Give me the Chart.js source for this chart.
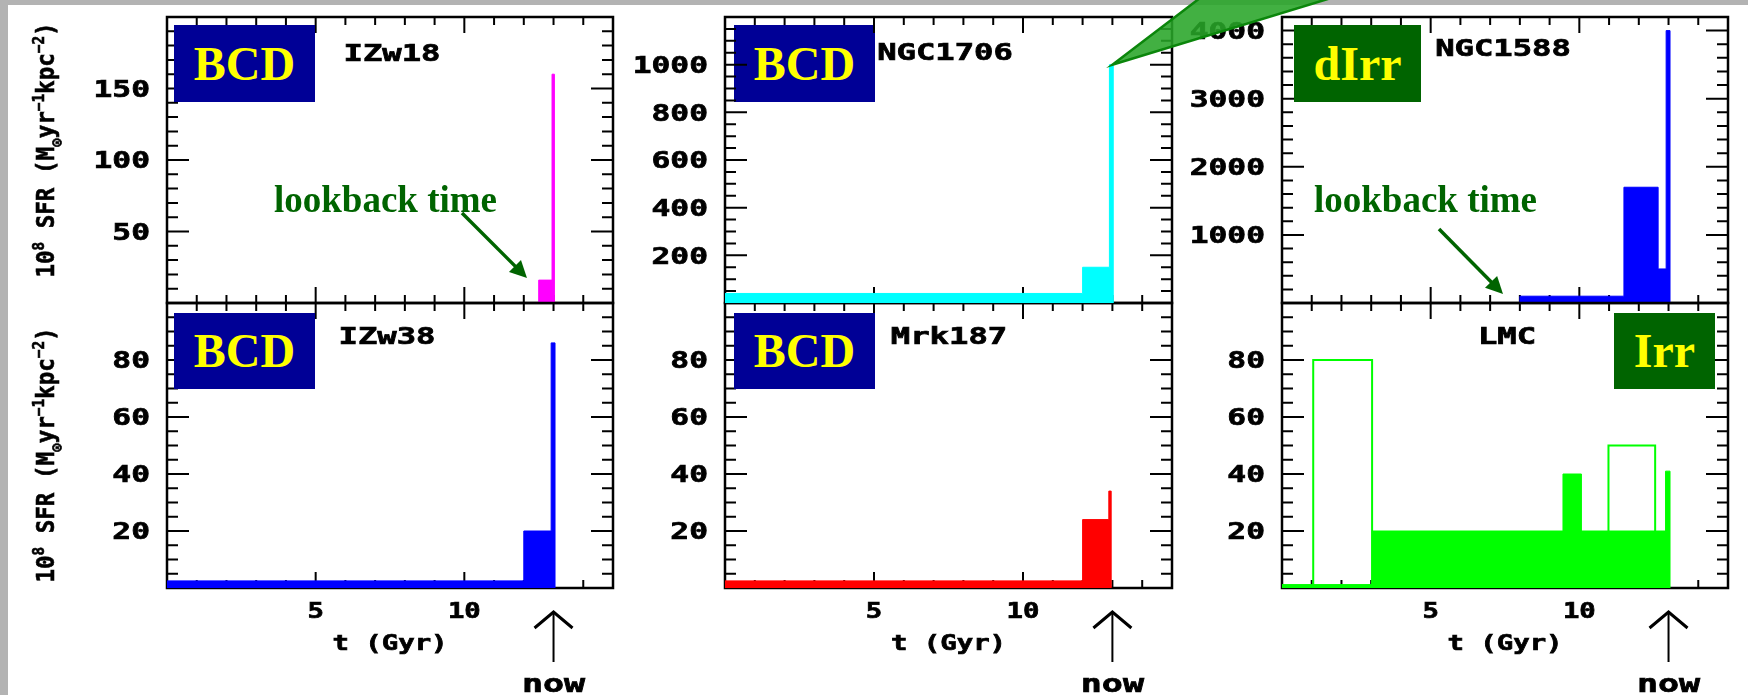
<!DOCTYPE html>
<html>
<head>
<meta charset="utf-8">
<script src="https://cdn.jsdelivr.net/npm/chart.js@4.4.1/dist/chart.umd.min.js"></script>
<style>
  html, body { margin: 0; padding: 0; background: #fff; }
  #page { position: relative; width: 1748px; height: 695px; overflow: hidden; background: #fff; }
  .strip { position: absolute; background: #b3b3b3; z-index: 0; }
  canvas { position: absolute; left: 0; top: 0; z-index: 1; }
  #c2 { z-index: 5; }
  .tag { position: absolute; display: flex; align-items: center; justify-content: center;
         font: bold 48px "Liberation Serif", "Times New Roman", serif; line-height: 48px; color: #ffff00; z-index: 3; }
  .tag.bcd { background: #000096; }
  .tag.irr { background: #006400; }
  .look { position: absolute; font: bold 37px "Liberation Serif", "Times New Roman", serif; line-height: 37px;
          color: #006400; white-space: nowrap; z-index: 3; }
</style>
</head>
<body>
<div id="page">
  <div class="strip" style="left:0;top:0;width:1748px;height:5px"></div>
  <div class="strip" style="left:0;top:0;width:8px;height:695px"></div>

  <canvas id="c1" width="1748" height="695"></canvas>
  <canvas id="c2" width="1748" height="695"></canvas>
  <canvas id="c3" width="1748" height="695"></canvas>
  <canvas id="c4" width="1748" height="695"></canvas>
  <canvas id="c5" width="1748" height="695"></canvas>
  <canvas id="c6" width="1748" height="695"></canvas>

  <div class="tag bcd" style="left:174px;top:25px;width:141px;height:77px">BCD</div>
  <div class="tag bcd" style="left:734px;top:25px;width:141px;height:77px">BCD</div>
  <div class="tag irr" style="left:1294px;top:25px;width:127px;height:77px">dIrr</div>
  <div class="tag bcd" style="left:174px;top:313px;width:141px;height:76px">BCD</div>
  <div class="tag bcd" style="left:734px;top:313px;width:141px;height:76px">BCD</div>
  <div class="tag irr" style="left:1614px;top:313px;width:101px;height:76px">Irr</div>

  <div class="look" style="left:274px;top:181px">lookback time</div>
  <div class="look" style="left:1314px;top:181px">lookback time</div>
</div>

<script>
// ─── DATA ─────────────────────────────────────────────────────────────────────
// star formation histories: bin edges in t (Gyr) and SFR per bin
const NOW = 13;
const T_MAX = 15;

const iz18Edges = [12.5, 12.95, 13.03];
const iz18Sfr = [16, 160];

const n1706Edges = [0, 12, 12.9, 13.03];
const n1706Sfr = [40, 150, 1000];

const n1588Edges = [8, 11.5, 12.65, 12.92, 13.05];
const n1588Sfr = [100, 1700, 500, 4000];

const iz38Edges = [0, 12, 12.92, 13.05];
const iz38Sfr = [2.5, 20, 86];

const mrk187Edges = [0, 12, 12.88, 12.96];
const mrk187Sfr = [2.5, 24, 34];

const lmcEdges = [0, 3.03, 9.45, 10.07, 12.9, 13.05];
const lmcSfr = [1.2, 20, 40, 20, 41];

// open (unfilled) LMC bursts
const lmcOpenFrom = [1.05, 10.98];
const lmcOpenTo = [3.03, 12.55];
const lmcOpenLow = [1.2, 20];
const lmcOpenHigh = [80, 50];

// tick labels
const xTickLabels = [5, 10];
const iz18Ticks = [50, 100, 150];
const n1706Ticks = [200, 400, 600, 800, 1000];
const n1588Ticks = [1000, 2000, 3000, 4000];
const lowerTicks = [20, 40, 60, 80];

// ─── HELPERS ──────────────────────────────────────────────────────────────────
const W = 1748, H = 695;
const MONO = '"DejaVu Sans Mono", "Liberation Mono", monospace';

function steps(edges, values) {
  const pts = [{ x: edges[0], y: 0 }];
  edges.forEach((e, i) => pts.push({ x: e, y: i < values.length ? values[i] : 0 }));
  return pts;
}

function histSet(edges, values, color) {
  return { data: steps(edges, values), stepped: true, fill: 'origin', backgroundColor: color,
           borderColor: color, borderWidth: 1, pointRadius: 0 };
}

function openBox(i, color) {
  const pts = [
    { x: lmcOpenFrom[i], y: lmcOpenLow[i] }, { x: lmcOpenFrom[i], y: lmcOpenHigh[i] },
    { x: lmcOpenTo[i], y: lmcOpenHigh[i] }, { x: lmcOpenTo[i], y: lmcOpenLow[i] }
  ];
  return { data: pts, fill: false, borderColor: color, borderWidth: 2, pointRadius: 0, tension: 0 };
}

// wide heavy text, cy is the middle of the capitals
function wideText(ctx, str, x, cy, size, sx, align) {
  ctx.save();
  ctx.font = `bold ${size}px ${MONO}`;
  ctx.textAlign = 'left';
  ctx.textBaseline = 'alphabetic';
  const w = ctx.measureText(str).width * sx;
  const left = align === 'right' ? x - w : align === 'center' ? x - w / 2 : x;
  ctx.translate(left, cy + size * 0.365);
  ctx.scale(sx, 1);
  ctx.fillStyle = '#000';
  ctx.strokeStyle = '#000';
  ctx.lineWidth = 0.7;
  ctx.fillText(str, 0, 0);
  ctx.strokeText(str, 0, 0);
  ctx.restore();
}

// rotated axis title with super/subscripts: [text, shift, scale]
const sfrTitle = [['10', 0, 1], ['8', -0.42, 0.62], [' SFR (M', 0, 1], ['⊙', 0.32, 0.62], ['yr', 0, 1],
                  ['−1', -0.42, 0.62], ['kpc', 0, 1], ['−2', -0.42, 0.62], [')', 0, 1]];

function yTitle(ctx, cx, cy) {
  const size = 25, along = 0.9;
  ctx.save();
  ctx.translate(cx, cy);
  ctx.rotate(-Math.PI / 2);
  ctx.scale(along, 1);
  ctx.fillStyle = '#000';
  ctx.strokeStyle = '#000';
  ctx.lineWidth = 0.6;
  ctx.textBaseline = 'alphabetic';
  let total = 0;
  const widths = sfrTitle.map(([t, , s]) => {
    ctx.font = `bold ${Math.round(size * s)}px ${MONO}`;
    const w = ctx.measureText(t).width;
    total += w;
    return w;
  });
  let x = -total / 2;
  sfrTitle.forEach(([t, dy, s], i) => {
    ctx.font = `bold ${Math.round(size * s)}px ${MONO}`;
    ctx.fillText(t, x, size * 0.365 + dy * size);
    ctx.strokeText(t, x, size * 0.365 + dy * size);
    x += widths[i];
  });
  ctx.restore();
}

function arrow(ctx, x1, y1, x2, y2, color, lw, head) {
  const a = Math.atan2(y2 - y1, x2 - x1);
  ctx.save();
  ctx.strokeStyle = color; ctx.fillStyle = color; ctx.lineWidth = lw;
  ctx.beginPath();
  ctx.moveTo(x1, y1);
  ctx.lineTo(x2 - Math.cos(a) * head * 0.8, y2 - Math.sin(a) * head * 0.8);
  ctx.stroke();
  ctx.beginPath();
  ctx.moveTo(x2, y2);
  ctx.lineTo(x2 - head * Math.cos(a) + head * 0.5 * Math.sin(a), y2 - head * Math.sin(a) - head * 0.5 * Math.cos(a));
  ctx.lineTo(x2 - head * Math.cos(a) - head * 0.5 * Math.sin(a), y2 - head * Math.sin(a) + head * 0.5 * Math.cos(a));
  ctx.closePath();
  ctx.fill();
  ctx.restore();
}

// ─── PANEL DRAWING ────────────────────────────────────────────────────────────
function drawTicks(chart, p) {
  const { ctx, chartArea: a, scales: { x, y } } = chart;
  ctx.save();
  ctx.strokeStyle = '#000';
  ctx.lineWidth = 2;
  ctx.beginPath();
  for (let v = 0; v <= T_MAX; v++) {
    const px = x.getPixelForValue(v);
    const len = v % 5 === 0 ? 16 : 8;
    ctx.moveTo(px, a.bottom); ctx.lineTo(px, a.bottom - len);
    ctx.moveTo(px, a.top); ctx.lineTo(px, a.top + len);
  }
  for (let v = 0; v <= p.yMax; v += p.yMinor) {
    const py = y.getPixelForValue(v);
    const len = v % p.yMajor === 0 ? 22 : 11;
    ctx.moveTo(a.left, py); ctx.lineTo(a.left + len, py);
    ctx.moveTo(a.right, py); ctx.lineTo(a.right - len, py);
  }
  ctx.stroke();
  ctx.lineWidth = 2.5;
  ctx.strokeRect(a.left, a.top, a.right - a.left, a.bottom - a.top);
  ctx.restore();
}

function drawLabels(chart, p) {
  const { ctx, chartArea: a, scales: { x, y } } = chart;
  p.ticks.forEach(v => wideText(ctx, String(v), a.left - 17, y.getPixelForValue(v), 23, 1.36, 'right'));
  wideText(ctx, p.name, p.namePos[0], p.namePos[1], 23, 1.4, 'center');
  if (p.lower) {
    xTickLabels.forEach(v => wideText(ctx, String(v), x.getPixelForValue(v), a.bottom + 22, 21, 1.3, 'center'));
    wideText(ctx, 't (Gyr)', (a.left + a.right) / 2, a.bottom + 54, 21, 1.3, 'center');
    // "now" marker
    const nx = x.getPixelForValue(NOW);
    ctx.save();
    ctx.strokeStyle = '#000';
    ctx.lineWidth = 3;
    ctx.beginPath();
    ctx.moveTo(nx - 19, a.bottom + 40); ctx.lineTo(nx, a.bottom + 24); ctx.lineTo(nx + 19, a.bottom + 40);
    ctx.stroke();
    ctx.lineWidth = 2;
    ctx.beginPath();
    ctx.moveTo(nx, a.bottom + 25); ctx.lineTo(nx, a.bottom + 74);
    ctx.stroke();
    ctx.restore();
    ctx.save();
    ctx.font = `bold 25px ${MONO}`;
    const w = ctx.measureText('now').width * 1.4;
    ctx.translate(nx - w / 2, a.bottom + 104);
    ctx.scale(1.4, 1);
    ctx.fillStyle = '#000';
    ctx.strokeStyle = '#000';
    ctx.lineWidth = 0.7;
    ctx.fillText('now', 0, 0);
    ctx.strokeText('now', 0, 0);
    ctx.restore();
  }
}

function panelPlugin(p) {
  return {
    id: 'panel' + p.key,
    beforeDatasetsDraw(chart) { drawTicks(chart, p); },
    afterDraw(chart) {
      drawLabels(chart, p);
      if (p.extra) p.extra(chart);
    }
  };
}

function makePanel(p) {
  return new Chart(document.getElementById(p.canvas), {
    type: 'line',
    data: { datasets: p.sets },
    options: {
      responsive: false,
      animation: false,
      devicePixelRatio: 1,
      layout: { padding: { left: p.box[0], top: p.box[1], right: W - p.box[2], bottom: H - p.box[3] } },
      plugins: { legend: { display: false }, tooltip: { enabled: false } },
      scales: {
        x: { type: 'linear', display: false, min: 0, max: T_MAX },
        y: { type: 'linear', display: false, min: 0, max: p.yMax }
      }
    },
    plugins: [panelPlugin(p)]
  });
}

// ─── PANELS ───────────────────────────────────────────────────────────────────
const GREEN = '#00ff00';

makePanel({
  key: 1, canvas: 'c1', box: [167, 17, 613, 303], yMax: 200, yMajor: 50, yMinor: 10,
  ticks: iz18Ticks, name: 'IZw18', namePos: [392, 53],
  sets: [histSet(iz18Edges, iz18Sfr, '#ff00ff')],
  extra(chart) {
    yTitle(chart.ctx, 45, 150);
    arrow(chart.ctx, 462, 213, 527, 278, '#006400', 3.5, 17);
  }
});

makePanel({
  key: 2, canvas: 'c2', box: [725, 17, 1172, 303], yMax: 1200, yMajor: 200, yMinor: 50,
  ticks: n1706Ticks, name: 'NGC1706', namePos: [945, 52],
  sets: [histSet(n1706Edges, n1706Sfr, '#00ffff')],
  extra(chart) {
    // callout pointing at the recent burst peak
    const { ctx, scales: { x, y } } = chart;
    const tx = x.getPixelForValue(NOW), ty = y.getPixelForValue(n1706Sfr[n1706Sfr.length - 1]);
    ctx.save();
    ctx.beginPath();
    ctx.moveTo(tx, ty);
    ctx.lineTo(1204, -5);
    ctx.lineTo(1341, -5);
    ctx.closePath();
    ctx.fillStyle = 'rgba(40,165,40,0.88)';
    ctx.fill();
    ctx.strokeStyle = '#0b860b';
    ctx.lineWidth = 2.5;
    ctx.stroke();
    ctx.restore();
  }
});

makePanel({
  key: 3, canvas: 'c3', box: [1282, 17, 1728, 303], yMax: 4200, yMajor: 1000, yMinor: 200,
  ticks: n1588Ticks, name: 'NGC1588', namePos: [1503, 48],
  sets: [histSet(n1588Edges, n1588Sfr, '#0000ff')],
  extra(chart) {
    arrow(chart.ctx, 1439, 229, 1503, 294, '#006400', 3.5, 17);
  }
});

makePanel({
  key: 4, canvas: 'c4', box: [167, 303, 613, 588], yMax: 100, yMajor: 20, yMinor: 5,
  ticks: lowerTicks, name: 'IZw38', namePos: [387, 336], lower: true,
  sets: [histSet(iz38Edges, iz38Sfr, '#0000ff')],
  extra(chart) { yTitle(chart.ctx, 45, 455); }
});

makePanel({
  key: 5, canvas: 'c5', box: [725, 303, 1172, 588], yMax: 100, yMajor: 20, yMinor: 5,
  ticks: lowerTicks, name: 'Mrk187', namePos: [949, 336], lower: true,
  sets: [histSet(mrk187Edges, mrk187Sfr, '#ff0000')]
});

makePanel({
  key: 6, canvas: 'c6', box: [1282, 303, 1728, 588], yMax: 100, yMajor: 20, yMinor: 5,
  ticks: lowerTicks, name: 'LMC', namePos: [1507, 336], lower: true,
  sets: [openBox(0, GREEN), openBox(1, GREEN), histSet(lmcEdges, lmcSfr, GREEN)]
});
</script>
</body>
</html>
